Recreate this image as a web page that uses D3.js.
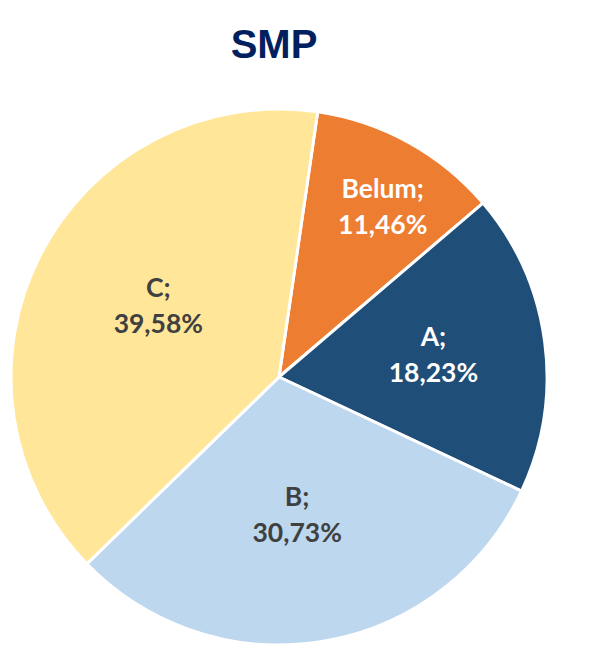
<!DOCTYPE html>
<html><head><meta charset="utf-8">
<script src="https://cdn.jsdelivr.net/npm/d3@7"></script>
<style>body{margin:0;background:#fff}</style>
</head><body>
<svg id="c" width="591" height="653"></svg>
<script>
const categories = ["Belum", "A", "B", "C"];
const values = [11.46, 18.23, 30.73, 39.58];
const labels = ["11,46%", "18,23%", "30,73%", "39,58%"];
const colors = ["#ED7D31", "#1F4E79", "#BDD7EE", "#FFE699"];
const textColors = ["#ffffff", "#ffffff", "#404040", "#404040"];
const labelRadius = [199, 156, 139, 140];
const labelAngleShift = [2.5, -0.5, 2, 3.4];

const svg = d3.select("#c");
const cx = 279, cy = 377, R = 268;
svg.append("text").attr("x", 274).attr("y", 58).attr("text-anchor", "middle")
  .attr("font-family", "Liberation Sans, Arial, sans-serif").attr("font-weight", "bold")
  .attr("font-size", 40).attr("fill", "#002060").text("SMP");

const start = 8.3 * Math.PI / 180;
const pie = d3.pie().sort(null).value(d => d).startAngle(start).endAngle(start + 2 * Math.PI);
const arcs = pie(values);
const arc = d3.arc().innerRadius(0).outerRadius(R);
const g = svg.append("g").attr("transform", `translate(${cx},${cy})`);
g.selectAll("path").data(arcs).join("path")
  .attr("d", arc).attr("fill", (d, i) => colors[i])
  .attr("stroke", "#fff").attr("stroke-width", 3).attr("stroke-linejoin", "round");

arcs.forEach((d, i) => {
  const a = (d.startAngle + d.endAngle) / 2 + labelAngleShift[i] * Math.PI / 180;
  const x = Math.sin(a) * labelRadius[i], y = -Math.cos(a) * labelRadius[i];
  const t = g.append("text").attr("text-anchor", "middle")
    .attr("font-family", "Lato, Carlito, sans-serif").attr("font-weight", "bold")
    .attr("font-size", 26.5).attr("fill", textColors[i]);
  t.append("tspan").attr("x", x).attr("y", y - 9).text(categories[i] + ";");
  t.append("tspan").attr("x", x).attr("y", y + 27).text(labels[i]);
});
</script>
</body></html>
